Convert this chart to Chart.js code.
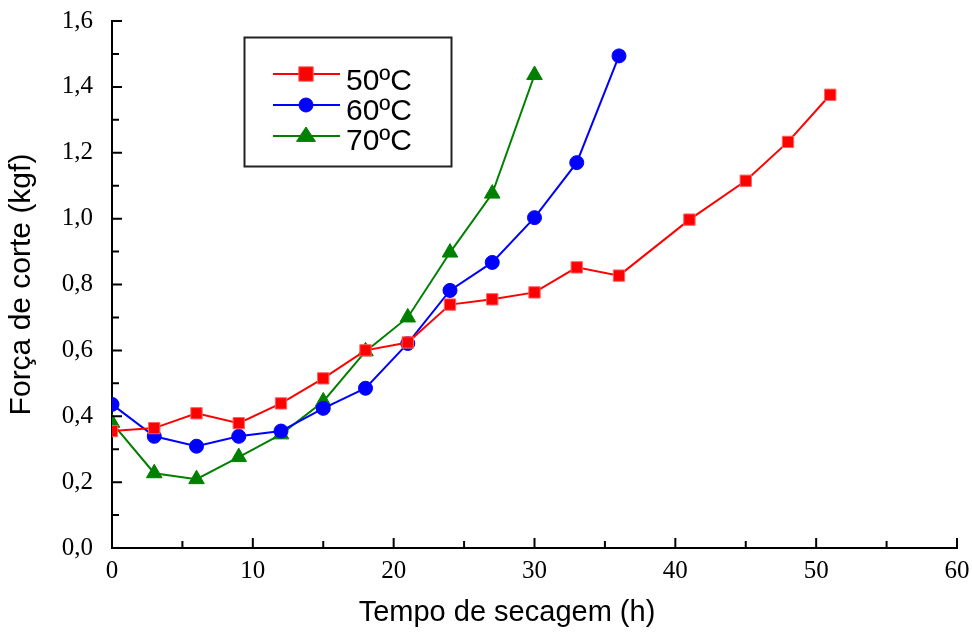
<!DOCTYPE html>
<html>
<head>
<meta charset="utf-8">
<script src="https://cdn.jsdelivr.net/npm/chart.js@4"></script>
<style>
  html, body { margin: 0; padding: 0; background: #fff; }
  #wrap { width: 972px; height: 633px; }
</style>
</head>
<body>
<div id="wrap"><canvas id="forca"></canvas></div>
<script>
// tempo de secagem (h) e força de corte (kgf)
const tempo50 = [0, 3, 6, 9, 12, 15, 18, 21, 24, 27, 30, 33, 36, 41, 45, 48, 51];
const forca50 = [0.355, 0.364, 0.409, 0.379, 0.439, 0.515, 0.600, 0.624, 0.739, 0.755, 0.776, 0.852, 0.827, 0.997, 1.115, 1.233, 1.376];

const tempo60 = [0, 3, 6, 9, 12, 15, 18, 21, 24, 27, 30, 33, 36];
const forca60 = [0.436, 0.339, 0.309, 0.339, 0.355, 0.424, 0.485, 0.621, 0.782, 0.867, 1.003, 1.170, 1.494];

const tempo70 = [0, 3, 6, 9, 12, 15, 18, 21, 24, 27, 30];
const forca70 = [0.380, 0.227, 0.209, 0.276, 0.345, 0.445, 0.597, 0.700, 0.897, 1.076, 1.436];

const seriesLabels = ['50ºC', '60ºC', '70ºC'];
const xTicks = [0, 10, 20, 30, 40, 50, 60];
const yTicks = [0, 0.2, 0.4, 0.6, 0.8, 1.0, 1.2, 1.4, 1.6];

const pts = (xs, ys) => xs.map((x, i) => ({ x: x, y: ys[i] }));

function drawMarker(ctx, style, r, x, y) {
  if (style === 'rect') {
    const s = r * 0.9;
    ctx.rect(x - s, y - s, 2 * s, 2 * s);
  } else if (style === 'circle') {
    ctx.arc(x, y, r, 0, Math.PI * 2);
  } else {
    ctx.moveTo(x, y - r);
    ctx.lineTo(x + r * 1.05, y + r * 0.6);
    ctx.lineTo(x - r * 1.05, y + r * 0.6);
    ctx.closePath();
  }
}

// ticks para dentro, maiores e menores, e título do eixo x
const innerTicks = {
  id: 'innerTicks',
  afterDraw(chart) {
    const { ctx, chartArea: a, scales: { x, y } } = chart;
    ctx.save();
    ctx.strokeStyle = '#000';
    ctx.lineWidth = 2;
    ctx.beginPath();
    for (let v = 0; v <= 60; v += 5) {
      const px = x.getPixelForValue(v);
      const len = v % 10 === 0 ? 10 : 7;
      ctx.moveTo(px, a.bottom);
      ctx.lineTo(px, a.bottom - len);
    }
    for (let i = 0; i <= 16; i++) {
      const py = y.getPixelForValue(i / 10);
      const len = i % 2 === 0 ? 10 : 7;
      ctx.moveTo(a.left, py);
      ctx.lineTo(a.left + len, py);
    }
    ctx.stroke();

    ctx.fillStyle = '#000';
    ctx.font = '29px "Liberation Sans", Arial, sans-serif';
    ctx.textAlign = 'center';
    ctx.textBaseline = 'middle';
    ctx.fillText('Tempo de secagem (h)', 507, 613);
    ctx.restore();
  }
};

// legenda dentro da área
const boxLegend = {
  id: 'boxLegend',
  afterDraw(chart) {
    const ctx = chart.ctx;
    ctx.save();
    ctx.strokeStyle = '#222';
    ctx.lineWidth = 2;
    ctx.strokeRect(244.5, 37.5, 207, 129);
    chart.data.datasets.forEach((ds, i) => {
      const yy = 74 + i * 31;
      ctx.strokeStyle = ds.borderColor;
      ctx.lineWidth = 2;
      ctx.beginPath();
      ctx.moveTo(273, yy);
      ctx.lineTo(340, yy);
      ctx.stroke();
      ctx.fillStyle = ds.pointBackgroundColor;
      ctx.strokeStyle = ds.pointBorderColor;
      ctx.lineWidth = 1;
      ctx.beginPath();
      drawMarker(ctx, ds.pointStyle, ds.pointRadius, 306, yy);
      ctx.fill();
      ctx.stroke();
      ctx.fillStyle = '#000';
      ctx.font = '30px "Liberation Sans", Arial, sans-serif';
      ctx.textAlign = 'left';
      ctx.textBaseline = 'middle';
      ctx.fillText(seriesLabels[i], 346, yy + 8 - i);
    });
    ctx.restore();
  }
};

const tickFont = { family: '"Liberation Serif", "Times New Roman", serif', size: 25 };

new Chart(document.getElementById('forca'), {
  type: 'line',
  data: {
    datasets: [
      {
        label: seriesLabels[0],
        data: pts(tempo50, forca50),
        borderColor: '#ff0000',
        borderWidth: 2,
        pointStyle: 'rect',
        pointRadius: 8,
        pointBackgroundColor: '#ff0000',
        pointBorderColor: '#ff6060',
        pointBorderWidth: 1,
        tension: 0
      },
      {
        label: seriesLabels[1],
        data: pts(tempo60, forca60),
        borderColor: '#0000ff',
        borderWidth: 2,
        pointStyle: 'circle',
        pointRadius: 7,
        pointBackgroundColor: '#0000ff',
        pointBorderColor: '#0000ff',
        pointBorderWidth: 1,
        tension: 0
      },
      {
        label: seriesLabels[2],
        data: pts(tempo70, forca70),
        borderColor: '#008000',
        borderWidth: 2,
        pointStyle: 'triangle',
        pointRadius: 9,
        pointBackgroundColor: '#008000',
        pointBorderColor: '#008000',
        pointBorderWidth: 1,
        tension: 0
      }
    ]
  },
  options: {
    responsive: true,
    maintainAspectRatio: false,
    animation: false,
    layout: { padding: { left: 0, right: 15, top: 21, bottom: 0 } },
    plugins: {
      legend: { display: false },
      tooltip: { enabled: false }
    },
    scales: {
      x: {
        type: 'linear',
        min: 0,
        max: 60,
        afterFit: s => { s.height = 85; s.paddingLeft = 0; s.paddingRight = 0; },
        afterBuildTicks: s => { s.ticks = xTicks.map(v => ({ value: v })); },
        grid: { display: false, drawTicks: false },
        border: { display: true, color: '#000', width: 2 },
        ticks: {
          padding: 8,
          color: '#000',
          font: tickFont
        }
      },
      y: {
        min: 0,
        max: 1.6,
        afterFit: s => { s.width = 112; s.paddingTop = 0; s.paddingBottom = 0; },
        afterBuildTicks: s => { s.ticks = yTicks.map(v => ({ value: v })); },
        grid: { display: false, drawTicks: false },
        border: { display: true, color: '#000', width: 2 },
        title: {
          display: true,
          text: 'Força de corte (kgf)',
          color: '#000',
          padding: { top: 4, bottom: 0 },
          font: { family: '"Liberation Sans", Arial, sans-serif', size: 30 }
        },
        ticks: {
          padding: 19,
          color: '#000',
          font: tickFont,
          callback: v => v.toFixed(1).replace('.', ',')
        }
      }
    }
  },
  plugins: [innerTicks, boxLegend]
});
</script>
</body>
</html>
